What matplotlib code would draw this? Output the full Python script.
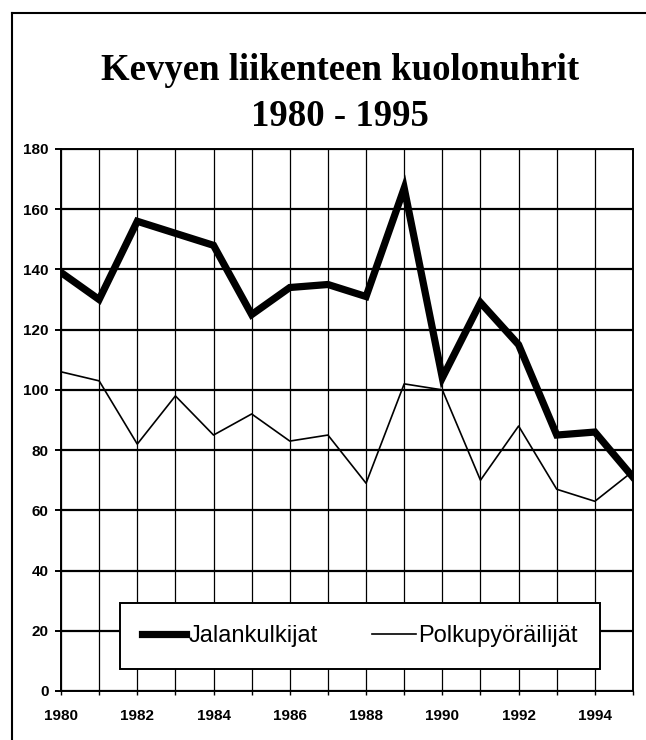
import matplotlib
matplotlib.use("Agg")
import matplotlib.pyplot as plt
from matplotlib.lines import Line2D

years = list(range(1980, 1996))
jalankulkijat = [139, 130, 156, 152, 148, 125, 134, 135, 131, 167, 104, 129, 115, 85, 86, 71]
polkupyorailijat = [106, 103, 82, 98, 85, 92, 83, 85, 69, 102, 100, 70, 88, 67, 63, 73]
yticks = list(range(0, 181, 20))

title1 = "Kevyen liikenteen kuolonuhrit"
title2 = "1980 - 1995"
labels = ["Jalankulkijat", "Polkupyöräilijät"]

sans = ["Liberation Sans", "DejaVu Sans"]
serif = ["Liberation Serif", "DejaVu Serif"]

fig = plt.figure(figsize=(6.46, 7.4), dpi=100)
fig.patch.set_facecolor("white")

ax = fig.add_axes([61/646, 1-691/740, (633-61)/646, (691-149)/740])
ax.plot(years, jalankulkijat, color="black", lw=5.2, solid_joinstyle="miter", label=labels[0], zorder=3)
ax.plot(years, polkupyorailijat, color="black", lw=1.2, label=labels[1], zorder=3)

ax.set_xlim(1980, 1995)
ax.set_ylim(0, 180)
ax.set_xticks(years)
ax.set_xticklabels([str(y) if (y - 1980) % 2 == 0 else "" for y in years])
ax.set_yticks(yticks)

ax.grid(axis="y", color="black", lw=1.6, zorder=1)
ax.grid(axis="x", color="black", lw=0.9, zorder=1)
ax.set_axisbelow(True)
for s in ax.spines.values():
    s.set_color("black")
    s.set_linewidth(1.4)

ax.tick_params(axis="x", direction="out", length=3, width=1, pad=10, labelsize=11)
ax.tick_params(axis="y", direction="out", length=4, width=1.4, pad=5, labelsize=11)
for lab in ax.get_xticklabels() + ax.get_yticklabels():
    lab.set_family(sans)
    lab.set_fontweight("bold")

leg = ax.legend(loc="center", bbox_to_anchor=((360-61)/572, (691-636)/542), ncol=2,
                frameon=True, fancybox=False, framealpha=1, edgecolor="black",
                prop={"family": sans, "size": 17}, handlelength=1.85, handletextpad=0.1,
                columnspacing=2.3, borderpad=0.95, borderaxespad=0)
leg.get_frame().set_linewidth(1.4)
leg.set_zorder(5)

fig.text(340/646, 1-70/740, title1, ha="center", va="center", family=serif,
         fontweight="bold", fontsize=26.5)
fig.text(340/646, 1-116/740, title2, ha="center", va="center", family=serif,
         fontweight="bold", fontsize=26.5)

fig.add_artist(Line2D([12/646, 12/646], [0, 1-13/740], transform=fig.transFigure, color="black", lw=1.5))
fig.add_artist(Line2D([12/646, 1], [1-13/740, 1-13/740], transform=fig.transFigure, color="black", lw=1.5))

fig.savefig("out.png", dpi=100)
